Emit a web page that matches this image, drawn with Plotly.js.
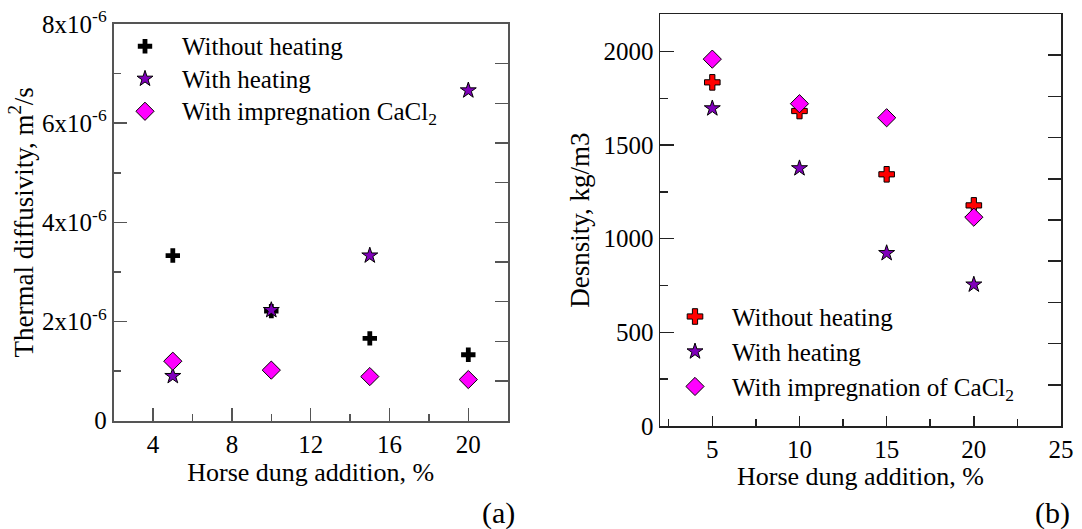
<!DOCTYPE html>
<html>
<head>
<meta charset="utf-8">
<script src="https://cdn.plot.ly/plotly-3.0.1.min.js"></script>
<style>html,body{margin:0;padding:0;background:#fff;}#chart{width:1082px;height:529px;}</style>
</head>
<body>
<div id="chart"></div>
<script>
// ---- data ----
const horseDung = [5, 10, 15, 20];
const diffWithoutHeating = [3.33e-6, 2.21e-6, 1.66e-6, 1.33e-6];
const diffWithHeating = [0.90e-6, 2.23e-6, 3.33e-6, 6.66e-6];
const diffCaCl2 = [1.20e-6, 1.02e-6, 0.89e-6, 0.83e-6];
const densWithoutHeating = [1835, 1682, 1344, 1178];
const densWithHeating = [1696, 1376, 923, 755];
const densCaCl2 = [1959, 1721, 1646, 1115];
const diffTickVals = [0, 2e-6, 4e-6, 6e-6, 8e-6];
const diffTickText = ['0', '2x10<sup>-6</sup>', '4x10<sup>-6</sup>', '6x10<sup>-6</sup>', '8x10<sup>-6</sup>'];
const namesA = ['Without heating', 'With heating', 'With impregnation CaCl<sub>2</sub>'];
const namesB = ['Without heating', 'With heating', 'With impregnation of CaCl<sub>2</sub>'];

const FONT = 'Liberation Serif, Times New Roman, serif';
const PURPLE = '#8000bb';
const MAGENTA = '#ff00ff';
const big = s => '<span style="font-size:25px">' + s + '</span>';

const traces = [
  {x: horseDung, y: diffWithoutHeating, name: big(namesA[0]), type: 'scatter', mode: 'markers',
   xaxis: 'x', yaxis: 'y', legend: 'legend', legendgroup: 'a1',
   marker: {symbol: 'cross', size: 12, color: '#000', line: {width: 0}}},
  {x: horseDung, y: diffWithHeating, name: big(namesA[1]), type: 'scatter', mode: 'markers',
   xaxis: 'x', yaxis: 'y', legend: 'legend', legendgroup: 'a2',
   marker: {symbol: 'star', size: 12, color: PURPLE, line: {width: 1, color: '#000'}}},
  {x: horseDung, y: diffCaCl2, name: big(namesA[2]), type: 'scatter', mode: 'markers',
   xaxis: 'x', yaxis: 'y', legend: 'legend', legendgroup: 'a3',
   marker: {symbol: 'diamond', size: 14, color: MAGENTA, line: {width: 1, color: '#000'}}},
  {x: horseDung, y: densWithoutHeating, name: big(namesB[0]), type: 'scatter', mode: 'markers',
   xaxis: 'x2', yaxis: 'y2', legend: 'legend2', legendgroup: 'b1',
   marker: {symbol: 'cross', size: 13, color: '#ff0000', line: {width: 1, color: '#000'}}},
  {x: horseDung, y: densWithHeating, name: big(namesB[1]), type: 'scatter', mode: 'markers',
   xaxis: 'x2', yaxis: 'y2', legend: 'legend2', legendgroup: 'b2',
   marker: {symbol: 'star', size: 12, color: PURPLE, line: {width: 1, color: '#000'}}},
  {x: horseDung, y: densCaCl2, name: big(namesB[2]), type: 'scatter', mode: 'markers',
   xaxis: 'x2', yaxis: 'y2', legend: 'legend2', legendgroup: 'b3',
   marker: {symbol: 'diamond', size: 14, color: MAGENTA, line: {width: 1, color: '#000'}}},
  // empty helpers so the right-hand tick axes get drawn
  {x: [], y: [], xaxis: 'x', yaxis: 'y3', type: 'scatter', mode: 'markers', showlegend: false, hoverinfo: 'skip'},
  {x: [], y: [], xaxis: 'x2', yaxis: 'y4', type: 'scatter', mode: 'markers', showlegend: false, hoverinfo: 'skip'}
];

const tickFont = {family: FONT, size: 25, color: '#000'};
const xTitleFont = {family: FONT, size: 26, color: '#000'};
const yTitleFont = {family: FONT, size: 27, color: '#000'};
const LA = '#555';
const LB = '#222';

const layout = {
  width: 1082, height: 529,
  margin: {l: 0, r: 0, t: 0, b: 0},
  paper_bgcolor: '#fff', plot_bgcolor: '#fff',
  font: {family: FONT, color: '#000'},
  xaxis: {
    domain: [113.7/1082, 507.7/1082], range: [2, 22], anchor: 'y',
    tickmode: 'linear', tick0: 0, dtick: 4,
    ticks: 'inside', ticklen: 13, tickwidth: 1.5, tickcolor: LA,
    minor: {tickmode: 'linear', tick0: 0, dtick: 2, ticks: 'inside', ticklen: 7, tickwidth: 1.5, tickcolor: LA},
    showline: true, linecolor: LA, linewidth: 2, mirror: true,
    showgrid: false, zeroline: false, tickfont: tickFont,
    title: {text: 'Horse dung addition, %', font: xTitleFont, standoff: 0}
  },
  yaxis: {
    domain: [1 - 420.7/529, 1 - 24/529], range: [0, 8e-6], anchor: 'x',
    tickmode: 'array', tickvals: diffTickVals, ticktext: diffTickText,
    ticks: 'inside', ticklen: 13, tickwidth: 1.5, tickcolor: LA,
    minor: {tickmode: 'array', tickvals: [1e-6, 3e-6, 5e-6, 7e-6], ticks: 'inside', ticklen: 7, tickwidth: 1.5, tickcolor: LA},
    showline: true, linecolor: LA, linewidth: 2, mirror: true,
    showgrid: false, zeroline: false, tickfont: tickFont,
    title: {text: 'Thermal diffusivity, m<sup>2</sup>/s', font: yTitleFont, standoff: 1}
  },
  yaxis3: {
    overlaying: 'y', side: 'right', anchor: 'x', range: [0, 8e-6],
    tickmode: 'linear', tick0: 0, dtick: 0.8e-6,
    ticks: 'inside', ticklen: 13, tickwidth: 1.5, tickcolor: LA,
    showticklabels: false, showline: false, showgrid: false, zeroline: false
  },
  xaxis2: {
    domain: [660/1082, 1061/1082], range: [2, 25], anchor: 'y2',
    tickmode: 'linear', tick0: 0, dtick: 5,
    ticks: 'inside', ticklen: 10, tickwidth: 1.5, tickcolor: LB,
    minor: {tickmode: 'linear', tick0: 0, dtick: 2.5, ticks: 'inside', ticklen: 7, tickwidth: 1.5, tickcolor: LB},
    showline: true, linecolor: LB, linewidth: 1.5, mirror: true,
    showgrid: false, zeroline: false, tickfont: tickFont,
    title: {text: 'Horse dung addition, %', font: xTitleFont, standoff: 4}
  },
  yaxis2: {
    domain: [1 - 426/529, 1 - 14/529], range: [0, 2200], anchor: 'x2',
    tickmode: 'linear', tick0: 0, dtick: 500,
    ticks: 'inside', ticklen: 14, tickwidth: 1.5, tickcolor: LB,
    minor: {tickmode: 'linear', tick0: 0, dtick: 250, ticks: 'inside', ticklen: 8, tickwidth: 1.5, tickcolor: LB},
    showline: true, linecolor: LB, linewidth: 1.5, mirror: true,
    showgrid: false, zeroline: false, tickfont: tickFont,
    title: {text: 'Desnsity, kg/m3', font: yTitleFont, standoff: 6}
  },
  yaxis4: {
    overlaying: 'y2', side: 'right', anchor: 'x2', range: [0, 2200],
    tickmode: 'linear', tick0: 0, dtick: 220,
    ticks: 'inside', ticklen: 13, tickwidth: 1.5, tickcolor: LB,
    showticklabels: false, showline: false, showgrid: false, zeroline: false
  },
  legend: {
    x: 108/1082, y: 1 - 25/529, xanchor: 'left', yanchor: 'top',
    bgcolor: 'rgba(0,0,0,0)', font: {family: FONT, size: 22.7, color: '#000'},
    itemwidth: 64, tracegroupgap: 0
  },
  legend2: {
    x: 658/1082, y: 1 - 294/529, xanchor: 'left', yanchor: 'top',
    bgcolor: 'rgba(0,0,0,0)', font: {family: FONT, size: 24.6, color: '#000'},
    itemwidth: 64, tracegroupgap: 0
  },
  annotations: [
    {text: '(a)', xref: 'paper', yref: 'paper', x: 498/1082, y: 1 - 513/529, xanchor: 'center', yanchor: 'middle',
     showarrow: false, font: {family: FONT, size: 30, color: '#000'}},
    {text: '(b)', xref: 'paper', yref: 'paper', x: 1052/1082, y: 1 - 513/529, xanchor: 'center', yanchor: 'middle',
     showarrow: false, font: {family: FONT, size: 30, color: '#000'}}
  ],
  showlegend: true
};

Plotly.newPlot('chart', traces, layout, {displayModeBar: false, staticPlot: true});
</script>
</body>
</html>
